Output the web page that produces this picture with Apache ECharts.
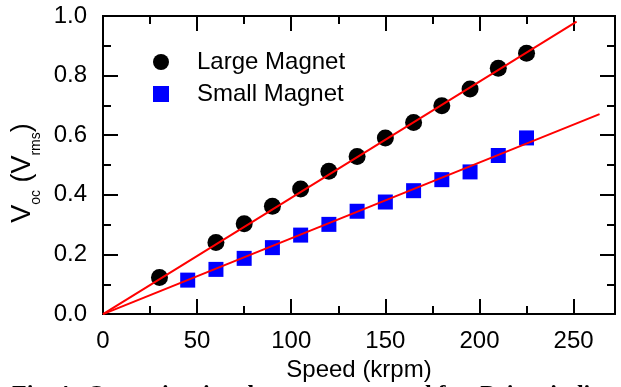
<!DOCTYPE html>
<html>
<head>
<meta charset="utf-8">
<script src="https://cdn.jsdelivr.net/npm/echarts@6/dist/echarts.min.js"></script>
<style>
html,body{margin:0;padding:0;background:#fff;}
#c{width:621px;height:387px;}
</style>
</head>
<body>
<div id="c"></div>
<script>
// Data
const largeSpeed = [30, 60, 75, 90, 105, 120, 135, 150, 165, 180, 195, 210, 225];
const largeVoc   = [0.123, 0.240, 0.303, 0.362, 0.420, 0.479, 0.529, 0.591, 0.643, 0.699, 0.755, 0.825, 0.875];
const smallSpeed = [45, 60, 75, 90, 105, 120, 135, 150, 165, 180, 195, 210, 225];
const smallVoc   = [0.114, 0.150, 0.187, 0.223, 0.265, 0.301, 0.345, 0.376, 0.414, 0.451, 0.477, 0.532, 0.591];
// Linear fit lines (end points)
const largeFit = [[0, 0], [251.6, 0.981]];
const smallFit = [[0, 0], [263.8, 0.671]];
const xMajorTicks = [0, 50, 100, 150, 200, 250];
const xMinorTicks = [25, 75, 125, 175, 225];
const yTickInterval = 0.2;

const FONT = 'Liberation Sans, Arial, sans-serif';
const chart = echarts.init(document.getElementById('c'), null, {renderer: 'canvas'});

function xAx(pos, ticks, len, labels, extra) {
  return Object.assign({
    type: 'value', position: pos, min: 0, max: 272,
    axisLine: {show: true, onZero: false, lineStyle: {color: '#000', width: 2}},
    axisTick: {show: true, inside: true, length: len, customValues: ticks, lineStyle: {color: '#000', width: 2}},
    axisLabel: labels ? {show: true, customValues: ticks, fontSize: 24, color: '#000', fontFamily: FONT, margin: 15} : {show: false},
    splitLine: {show: false}
  }, extra || {});
}
function yAx(pos, labels, extra) {
  return Object.assign({
    type: 'value', position: pos, min: 0, max: 1, interval: yTickInterval,
    axisLine: {show: true, onZero: false, lineStyle: {color: '#000', width: 2}},
    axisTick: {show: true, inside: true, length: 15, lineStyle: {color: '#000', width: 2}},
    minorTick: {show: true, splitNumber: 2, length: 8, lineStyle: {color: '#000', width: 2}},
    axisLabel: labels ? {show: true, fontSize: 24, color: '#000', fontFamily: FONT, margin: 16,
      formatter: v => v.toFixed(1)} : {show: false},
    splitLine: {show: false}
  }, extra || {});
}

const option = {
  animation: false,
  backgroundColor: '#fff',
  grid: {left: 103, right: 6, top: 16, bottom: 72, containLabel: false},
  xAxis: [
    xAx('bottom', xMajorTicks, 15, true, {
      name: 'Speed (krpm)', nameLocation: 'middle', nameGap: 43,
      nameTextStyle: {fontSize: 24, color: '#000', fontFamily: FONT}
    }),
    xAx('bottom', xMinorTicks, 8, false),
    xAx('top', xMajorTicks, 15, false),
    xAx('top', xMinorTicks, 8, false)
  ],
  yAxis: [
    yAx('left', true, {
      name: '{m|V}{s|oc}{m| (V}{s|rms}{m|)}', nameLocation: 'middle', nameRotate: 90, nameGap: 52,
      nameTextStyle: {
        fontFamily: FONT, color: '#000', padding: [0, 16, 0, 0],
        rich: {
          m: {fontSize: 27, lineHeight: 28, verticalAlign: 'top', fontFamily: FONT, color: '#000'},
          s: {fontSize: 14, lineHeight: 14, padding: [20, 0, 0, 0], verticalAlign: 'top', fontFamily: FONT, color: '#000'}
        }
      }
    }),
    yAx('right', false)
  ],
  legend: {
    orient: 'vertical', left: 153, top: 50, padding: 0, itemWidth: 16, itemHeight: 16, itemGap: 8,
    data: ['Large Magnet', 'Small Magnet'],
    textStyle: {fontSize: 24, color: '#000', fontFamily: FONT, padding: [0, 0, 0, 23]}
  },
  series: [
    {name: 'Large Magnet', type: 'scatter', symbol: 'circle', symbolSize: 17,
     itemStyle: {color: '#000', opacity: 1}, data: largeSpeed.map((s, i) => [s, largeVoc[i]]), z: 2},
    {name: 'Small Magnet', type: 'scatter', symbol: 'rect', symbolSize: 15,
     itemStyle: {color: '#0000ff', opacity: 1}, data: smallSpeed.map((s, i) => [s, smallVoc[i]]), z: 2},
    {name: 'Large fit', type: 'line', data: largeFit, showSymbol: false, symbol: 'none',
     lineStyle: {color: '#ff0000', width: 2}, z: 3, silent: true},
    {name: 'Small fit', type: 'line', data: smallFit, showSymbol: false, symbol: 'none',
     lineStyle: {color: '#ff0000', width: 2}, z: 3, silent: true}
  ],
  graphic: [
    {type: 'text', x: 12, y: 383,
     style: {text: 'Fig. 4.  Open-circuit voltage versus speed for  Points indicate', font: 'bold 24px "Liberation Serif", serif', fill: '#000', verticalAlign: 'top'}}
  ]
};
chart.setOption(option);
</script>
</body>
</html>
